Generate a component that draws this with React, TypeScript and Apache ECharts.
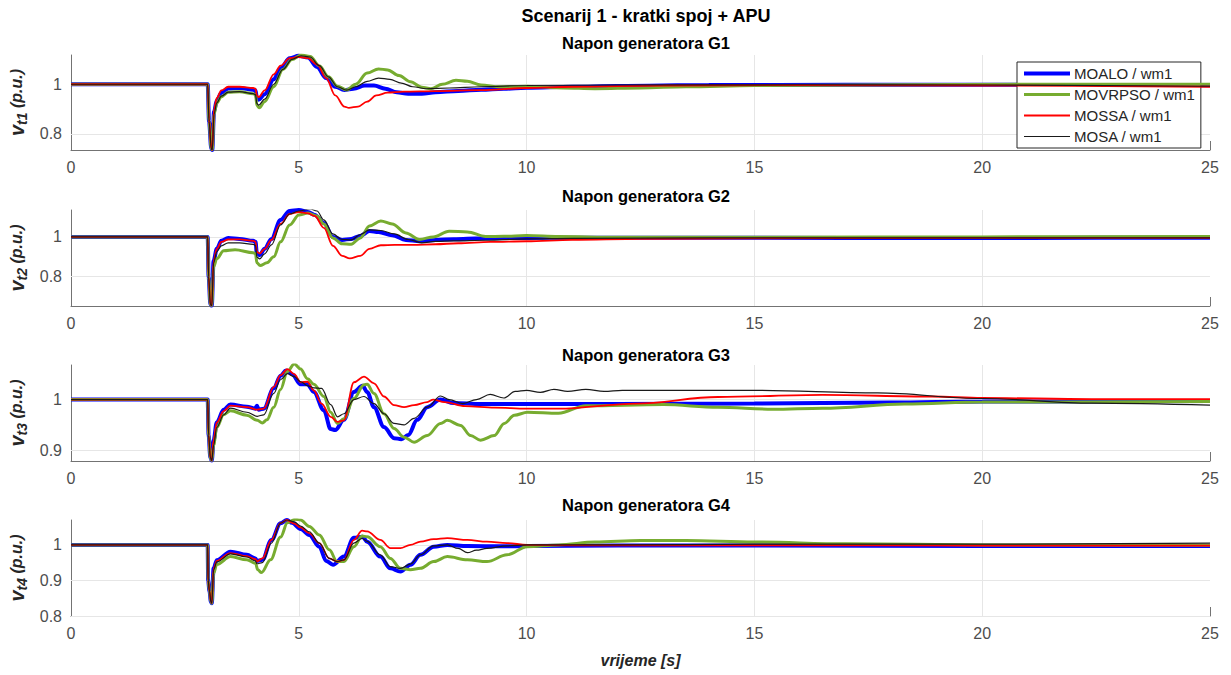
import React, { useEffect, useRef } from "react";
import * as echarts from "echarts";

const methods = ["MOALO / wm1", "MOVRPSO / wm1", "MOSSA / wm1", "MOSA / wm1"];
const methodColors = ["#0000ff", "#77ac30", "#ff0000", "#1a1a1a"];
const methodWidths = [4, 3, 1.8, 1.2];
const panelTitles = ["Napon generatora G1", "Napon generatora G2", "Napon generatora G3", "Napon generatora G4"];
const ySubs = ["t1", "t2", "t3", "t4"];
const xGridValues = [5, 10, 15, 20];
const yTickValues = [[0.8, 1], [0.8, 1], [0.9, 1], [0.8, 0.9, 1]];
const yRanges = [[0.735, 1.118], [0.653, 1.135], [0.879, 1.068], [0.8, 1.07]];

// ---- Panel G1 ----
const g1Moalo = [[0,1],[3,1],[3.03,0.85],[3.08,0.74],[3.1,0.735],[3.14,0.89],[3.2,0.935],[3.3,0.965],[3.45,0.983],[3.7,0.985],[4.0,0.978],[4.05,0.975],[4.08,0.945],[4.12,0.938],[4.25,0.96],[4.45,1.02],[4.6,1.065],[4.8,1.105],[5.0,1.115],[5.2,1.108],[5.4,1.07],[5.6,1.025],[5.8,0.99],[6.0,0.977],[6.2,0.982],[6.45,0.995],[6.65,0.995],[6.9,0.982],[7.15,0.968],[7.4,0.962],[7.7,0.962],[8.0,0.968],[8.5,0.973],[9.0,0.978],[9.5,0.982],[10,0.986],[11,0.99],[12,0.993],[14,0.997],[17,0.998],[20,0.998],[25,0.996]];
const g1Movrpso = [[0,1],[3,1],[3.03,0.85],[3.08,0.74],[3.1,0.735],[3.14,0.88],[3.2,0.925],[3.3,0.95],[3.45,0.968],[3.7,0.97],[4.0,0.962],[4.05,0.958],[4.08,0.915],[4.13,0.905],[4.25,0.93],[4.45,0.99],[4.65,1.06],[4.85,1.1],[5.05,1.118],[5.25,1.112],[5.45,1.075],[5.65,1.03],[5.85,0.992],[6.05,0.977],[6.25,1.0],[6.5,1.045],[6.75,1.062],[6.95,1.058],[7.2,1.035],[7.45,1.01],[7.7,0.988],[7.9,0.982],[8.15,1.0],[8.45,1.016],[8.7,1.012],[9.0,0.997],[9.4,0.99],[10,0.992],[10.8,0.985],[11.5,0.982],[12.5,0.985],[13.5,0.99],[15,0.995],[18,0.998],[21,1.0],[25,1.0]];
const g1Mossa = [[0,1],[3,1],[3.03,0.86],[3.08,0.74],[3.1,0.735],[3.14,0.9],[3.2,0.945],[3.3,0.975],[3.45,0.99],[3.7,0.99],[4.0,0.985],[4.05,0.982],[4.08,0.955],[4.12,0.948],[4.25,0.975],[4.45,1.04],[4.6,1.075],[4.8,1.105],[5.0,1.11],[5.2,1.105],[5.4,1.08],[5.6,1.025],[5.8,0.955],[6.0,0.91],[6.1,0.905],[6.3,0.91],[6.5,0.93],[6.7,0.955],[6.95,0.966],[7.3,0.97],[8,0.972],[9,0.976],[10,0.985],[11,0.99],[13,0.995],[16,0.997],[20,0.995],[25,0.99]];
const g1Mosa = [[0,1],[3,1],[3.03,0.85],[3.08,0.74],[3.1,0.735],[3.14,0.88],[3.2,0.925],[3.3,0.952],[3.45,0.968],[3.7,0.97],[4.0,0.962],[4.05,0.958],[4.08,0.922],[4.12,0.916],[4.25,0.94],[4.45,1.0],[4.65,1.06],[4.85,1.1],[5.05,1.115],[5.25,1.11],[5.45,1.075],[5.65,1.03],[5.85,0.99],[6.05,0.976],[6.25,0.99],[6.5,1.012],[6.75,1.025],[7.0,1.02],[7.25,1.005],[7.5,0.99],[7.8,0.982],[8.3,0.985],[9,0.99],[10,0.995],[12,0.997],[16,0.998],[20,0.997],[25,0.992]];

// ---- Panel G2 ----
const g2Moalo = [[0,1],[3,1],[3.02,0.8],[3.06,0.66],[3.09,0.655],[3.13,0.88],[3.2,0.94],[3.3,0.98],[3.45,0.995],[3.7,0.99],[4.0,0.98],[4.05,0.975],[4.08,0.915],[4.14,0.908],[4.25,0.94],[4.4,0.99],[4.6,1.085],[4.8,1.13],[5.0,1.135],[5.2,1.125],[5.35,1.11],[5.55,1.07],[5.75,1.0],[5.95,0.985],[6.15,0.99],[6.35,1.005],[6.55,1.03],[6.75,1.025],[7.05,1.008],[7.35,0.985],[7.65,0.978],[8.0,0.985],[8.4,0.988],[9,0.993],[10,0.995],[11,0.996],[13,0.996],[17,0.995],[21,0.995],[25,0.996]];
const g2Movrpso = [[0,1],[3,1],[3.02,0.8],[3.06,0.66],[3.09,0.655],[3.13,0.85],[3.2,0.89],[3.35,0.93],[3.6,0.935],[4.0,0.92],[4.05,0.915],[4.08,0.87],[4.15,0.856],[4.3,0.87],[4.45,0.9],[4.6,0.975],[4.8,1.06],[5.0,1.11],[5.2,1.12],[5.4,1.105],[5.55,1.065],[5.75,0.995],[5.95,0.965],[6.15,0.963],[6.35,0.995],[6.55,1.055],[6.8,1.08],[7.05,1.065],[7.35,1.02],[7.65,0.987],[7.95,1.0],[8.3,1.028],[8.7,1.025],[9.1,1.002],[9.5,1.003],[10,1.007],[10.7,1.002],[12,0.998],[15,0.998],[20,1.0],[25,1.002]];
const g2Mossa = [[0,1],[3,1],[3.02,0.8],[3.06,0.66],[3.09,0.655],[3.13,0.88],[3.2,0.94],[3.3,0.975],[3.45,0.987],[3.7,0.988],[4.0,0.98],[4.05,0.975],[4.08,0.925],[4.14,0.917],[4.25,0.94],[4.4,0.985],[4.6,1.065],[4.8,1.115],[5.0,1.125],[5.2,1.118],[5.35,1.105],[5.55,1.045],[5.75,0.955],[5.95,0.905],[6.12,0.892],[6.35,0.905],[6.55,0.94],[6.8,0.958],[7.1,0.96],[7.5,0.96],[8.0,0.963],[8.5,0.968],[9.2,0.975],[10,0.978],[11,0.985],[12.5,0.99],[15,0.993],[20,0.995],[25,0.995]];
const g2Mosa = [[0,1],[3,1],[3.02,0.8],[3.06,0.66],[3.09,0.655],[3.13,0.87],[3.2,0.925],[3.3,0.955],[3.45,0.97],[3.7,0.97],[4.0,0.962],[4.05,0.958],[4.08,0.898],[4.14,0.89],[4.25,0.915],[4.4,0.96],[4.6,1.06],[4.8,1.115],[5.0,1.13],[5.25,1.14],[5.4,1.13],[5.55,1.085],[5.75,1.015],[5.95,0.987],[6.15,0.985],[6.35,1.012],[6.55,1.035],[6.8,1.032],[7.1,1.015],[7.4,0.987],[7.7,0.97],[8.0,0.977],[8.4,0.98],[9.1,0.983],[10,0.99],[11,0.993],[14,0.995],[20,0.995],[25,0.995]];

// ---- Panel G3 ----
const g3Moalo = [[0,1],[3,1],[3.02,0.93],[3.06,0.885],[3.09,0.88],[3.13,0.92],[3.2,0.955],[3.35,0.98],[3.5,0.99],[3.86,0.986],[4.05,0.982],[4.08,0.988],[4.12,0.98],[4.23,0.982],[4.45,1.022],[4.6,1.047],[4.72,1.057],[4.85,1.05],[5.04,1.03],[5.19,1.03],[5.33,1.015],[5.55,0.979],[5.7,0.942],[5.8,0.94],[5.99,0.96],[6.21,1.015],[6.4,1.027],[6.5,1.015],[6.65,0.985],[6.87,0.946],[7.09,0.924],[7.25,0.922],[7.4,0.93],[7.6,0.96],[7.82,0.985],[8.11,1.0],[8.4,0.993],[9,0.991],[10,0.991],[12,0.991],[15,0.992],[18,0.994],[20,0.996],[25,0.997]];
const g3Movrpso = [[0,1],[3,1],[3.02,0.93],[3.06,0.885],[3.09,0.88],[3.13,0.91],[3.2,0.945],[3.35,0.97],[3.5,0.978],[3.86,0.969],[4.09,0.959],[4.2,0.954],[4.3,0.96],[4.45,0.985],[4.6,1.02],[4.75,1.055],[4.9,1.07],[5.04,1.06],[5.19,1.041],[5.33,1.03],[5.55,1.006],[5.7,0.975],[5.85,0.953],[5.99,0.962],[6.21,1.002],[6.43,1.029],[6.5,1.03],[6.65,1.012],[6.87,0.972],[7.09,0.943],[7.31,0.926],[7.53,0.916],[7.82,0.929],[8.11,0.953],[8.26,0.959],[8.55,0.949],[8.77,0.929],[8.99,0.92],[9.29,0.929],[9.51,0.953],[9.73,0.969],[10.02,0.975],[10.7,0.973],[11.3,0.988],[13,0.99],[14.2,0.985],[15.4,0.981],[16.5,0.983],[18.3,0.991],[20,0.995],[25,0.996]];
const g3Mossa = [[0,1],[3,1],[3.02,0.93],[3.06,0.885],[3.09,0.88],[3.13,0.92],[3.2,0.955],[3.35,0.977],[3.5,0.988],[3.86,0.985],[4.09,0.98],[4.23,0.982],[4.45,1.025],[4.6,1.048],[4.75,1.06],[4.9,1.05],[5.04,1.034],[5.19,1.035],[5.33,1.018],[5.5,0.992],[5.7,0.966],[5.85,0.956],[5.99,0.959],[6.21,1.034],[6.43,1.045],[6.65,1.032],[6.87,1.006],[7.09,0.989],[7.31,0.985],[7.53,0.989],[7.82,0.995],[7.95,1.0],[8.2,0.995],[8.65,0.987],[9.3,0.984],[10,0.982],[10.7,0.982],[12.4,0.992],[14.2,1.005],[16.5,1.009],[18.9,1.006],[20,1.003],[22.4,1.001],[25,1.001]];
const g3Mosa = [[0,1],[3,1],[3.02,0.93],[3.06,0.885],[3.09,0.88],[3.13,0.91],[3.2,0.945],[3.35,0.97],[3.5,0.983],[3.86,0.975],[4.09,0.967],[4.23,0.97],[4.45,1.012],[4.6,1.039],[4.75,1.051],[4.9,1.045],[5.04,1.035],[5.2,1.027],[5.33,1.023],[5.5,1.022],[5.7,0.99],[5.85,0.966],[5.99,0.972],[6.21,1.0],[6.43,1.006],[6.65,0.992],[6.87,0.972],[7.09,0.953],[7.31,0.95],[7.53,0.963],[7.82,0.985],[8.11,1.007],[8.3,1.0],[8.6,0.992],[8.9,1.0],[9.2,1.01],[9.5,1.003],[9.75,1.016],[10.0,1.018],[10.3,1.014],[10.6,1.02],[10.9,1.016],[11.3,1.02],[11.7,1.016],[12.1,1.018],[13,1.018],[15,1.018],[17.7,1.013],[20,1.002],[22.4,0.993],[25,0.989]];

// ---- Panel G4 ----
const g4Moalo = [[0,1],[3,1],[3.01,0.9],[3.04,0.87],[3.07,0.84],[3.09,0.836],[3.13,0.934],[3.2,0.957],[3.5,0.981],[3.86,0.972],[4.05,0.962],[4.08,0.955],[4.2,0.958],[4.4,1.014],[4.6,1.061],[4.74,1.07],[4.85,1.062],[5.04,1.045],[5.23,1.028],[5.45,0.995],[5.6,0.955],[5.75,0.944],[5.99,0.967],[6.21,1.02],[6.4,1.023],[6.5,1.009],[6.79,0.967],[7.01,0.934],[7.23,0.925],[7.45,0.944],[7.67,0.972],[7.96,0.995],[8.26,1.0],[8.7,0.997],[9.5,0.996],[10,0.997],[12,0.998],[15,0.998],[20,0.997],[25,0.997]];
const g4Movrpso = [[0,1],[3,1],[3.01,0.9],[3.04,0.87],[3.07,0.84],[3.09,0.836],[3.13,0.92],[3.2,0.945],[3.5,0.967],[3.86,0.958],[4.05,0.948],[4.1,0.93],[4.18,0.922],[4.38,0.958],[4.6,1.022],[4.75,1.062],[4.92,1.072],[5.04,1.07],[5.23,1.052],[5.45,1.028],[5.67,0.986],[5.84,0.953],[5.99,0.953],[6.21,0.995],[6.39,1.025],[6.5,1.023],[6.79,0.995],[7.01,0.962],[7.23,0.934],[7.45,0.93],[7.67,0.934],[7.96,0.953],[8.26,0.967],[8.7,0.958],[9.13,0.953],[9.57,0.972],[10.01,0.995],[10.7,1.0],[11.5,1.008],[12.5,1.012],[13.5,1.012],[15,1.008],[17,1.003],[20,1.0],[25,0.999]];
const g4Mossa = [[0,1],[3,1],[3.01,0.9],[3.04,0.87],[3.07,0.84],[3.09,0.836],[3.13,0.934],[3.2,0.955],[3.5,0.977],[3.86,0.968],[4.05,0.96],[4.08,0.953],[4.2,0.962],[4.4,1.014],[4.6,1.061],[4.74,1.07],[4.9,1.06],[5.04,1.049],[5.23,1.033],[5.45,1.005],[5.67,0.962],[5.84,0.953],[5.99,0.958],[6.21,1.014],[6.39,1.04],[6.5,1.038],[6.79,1.014],[7.01,0.991],[7.23,0.991],[7.45,1.0],[7.67,1.009],[7.96,1.016],[8.26,1.019],[8.7,1.014],[9.13,1.009],[9.57,1.005],[10.01,1.0],[11,0.999],[15,0.999],[20,0.998],[25,0.998]];
const g4Mosa = [[0,1],[3,1],[3.01,0.9],[3.04,0.87],[3.07,0.84],[3.09,0.836],[3.13,0.93],[3.2,0.952],[3.5,0.975],[3.86,0.966],[4.05,0.955],[4.08,0.947],[4.2,0.95],[4.4,1.005],[4.6,1.061],[4.74,1.07],[4.9,1.065],[5.04,1.053],[5.23,1.037],[5.45,1.005],[5.67,0.962],[5.84,0.953],[5.99,0.958],[6.21,1.005],[6.39,1.018],[6.5,1.01],[6.79,0.972],[7.01,0.939],[7.23,0.934],[7.45,0.946],[7.67,0.972],[7.96,0.997],[8.26,1.0],[8.5,0.99],[8.7,0.978],[8.9,0.985],[9.13,0.99],[9.57,0.997],[10.01,1.0],[12,1.0],[15,1.002],[20,1.002],[25,1.005]];

const panelData = [
  [g1Moalo, g1Movrpso, g1Mossa, g1Mosa],
  [g2Moalo, g2Movrpso, g2Mossa, g2Mosa],
  [g3Moalo, g3Movrpso, g3Mossa, g3Mosa],
  [g4Moalo, g4Movrpso, g4Mossa, g4Mosa],
];

const FONT = "'Liberation Sans', Arial, Helvetica, sans-serif";
const gridBoxes = [
  { top: 55, height: 95 },
  { top: 210, height: 96 },
  { top: 365, height: 96 },
  { top: 520, height: 96 },
];
const titleTops = [29, 182, 341, 491];

export default function App() {
  const ref = useRef<HTMLDivElement>(null);
  useEffect(() => {
    if (!ref.current) return;
    const chart = echarts.init(ref.current, null, { renderer: "svg" });
    const grids = gridBoxes.map((g) => ({
      left: 71,
      width: 1139,
      top: g.top,
      height: g.height,
      containLabel: false,
      outerBoundsMode: "none",
    }));
    const xAxes = gridBoxes.map((_, i) => ({
      type: "value",
      gridIndex: i,
      min: 0,
      max: 25,
      interval: 5,
      axisLine: { show: true, onZero: false, lineStyle: { color: "#737373", width: 1 } },
      axisTick: { show: true, inside: true, length: 9, lineStyle: { color: "#737373" } },
      axisLabel: { show: true, color: "#4d4d4d", fontSize: 16, fontFamily: FONT, margin: 9 },
      splitLine: { show: false },
      name: i === 3 ? "vrijeme [s]" : "",
      nameLocation: "middle",
      nameGap: 36,
      nameTextStyle: { fontFamily: FONT, fontSize: 16, fontWeight: "bold", fontStyle: "italic", color: "#262626" },
    }));
    const yAxes = gridBoxes.map((_, i) => ({
      type: "value",
      gridIndex: i,
      min: yRanges[i][0],
      max: yRanges[i][1],
      axisLine: { show: true, onZero: false, lineStyle: { color: "#737373", width: 1 } },
      axisTick: { show: true, inside: true, length: 9, customValues: yTickValues[i], lineStyle: { color: "#737373" } },
      axisLabel: {
        show: true,
        customValues: yTickValues[i],
        color: "#4d4d4d",
        fontSize: 16,
        fontFamily: FONT,
        margin: 9,
        formatter: (v: number) => String(Math.round(v * 10) / 10),
      },
      splitLine: { show: false },
      name: `{v|v}{s|${ySubs[i]}}{p| (p.u.)}`,
      nameLocation: "middle",
      nameRotate: 90,
      nameGap: 39,
      nameTextStyle: {
        fontFamily: FONT,
        color: "#262626",
        rich: {
          v: { fontFamily: FONT, fontSize: 20, fontWeight: "bold", fontStyle: "italic", color: "#262626", lineHeight: 24, verticalAlign: "middle" },
          s: { fontFamily: FONT, fontSize: 14, fontWeight: "bold", fontStyle: "italic", color: "#262626", lineHeight: 14, verticalAlign: "bottom" },
          p: { fontFamily: FONT, fontSize: 16, fontWeight: "bold", fontStyle: "italic", color: "#262626", lineHeight: 24, verticalAlign: "middle" },
        },
      },
    }));
    const series: any[] = [];
    gridBoxes.forEach((_, i) => {
      series.push({
        type: "line",
        name: "grid" + i,
        xAxisIndex: i,
        yAxisIndex: i,
        data: [],
        silent: true,
        z: 1,
        markLine: {
          silent: true,
          z: 1,
          symbol: ["none", "none"],
          label: { show: false },
          emphasis: { disabled: true },
          lineStyle: { color: "#e6e6e6", width: 1, type: "solid" },
          data: [
            ...yTickValues[i].map((v) => ({ yAxis: v })),
            ...xGridValues.map((v) => ({ xAxis: v })),
          ],
        },
      });
      methods.forEach((m, k) => {
        series.push({
          type: "line",
          name: m,
          xAxisIndex: i,
          yAxisIndex: i,
          data: panelData[i][k],
          symbol: "none",
          showSymbol: false,
          silent: true,
          clip: true,
          smooth: 0.35,
          smoothMonotone: "x",
          z: 3 + k,
          color: methodColors[k],
          lineStyle: { color: methodColors[k], width: methodWidths[k] },
        });
      });
    });
    const option: any = {
      animation: false,
      backgroundColor: "#ffffff",
      textStyle: { fontFamily: FONT },
      title: [
        {
          text: "Scenarij 1 - kratki spoj + APU",
          left: 641,
          top: 2,
          textAlign: "center",
          textStyle: { fontFamily: FONT, fontSize: 18, fontWeight: "bold", color: "#000" },
        },
        ...panelTitles.map((t, i) => ({
          text: t,
          left: 641,
          top: titleTops[i],
          textAlign: "center",
          textStyle: { fontFamily: FONT, fontSize: 16.5, fontWeight: "bold", color: "#000" },
        })),
      ],
      legend: {
        orient: "vertical",
        left: 1017,
        top: 62,
        padding: [4, 6, 4, 5],
        itemWidth: 46,
        itemHeight: 14,
        itemGap: 6,
        backgroundColor: "#ffffff",
        borderColor: "#262626",
        borderWidth: 1,
        textStyle: { fontFamily: FONT, fontSize: 15, color: "#262626", lineHeight: 15, padding: [0, 0, 0, -1] },
        data: methods.map((m, k) => ({
          name: m,
          itemStyle: { opacity: 0 },
          lineStyle: { width: methodWidths[k], color: methodColors[k] },
        })),
        selectedMode: false,
      },
      grid: grids,
      xAxis: xAxes,
      yAxis: yAxes,
      series,
    };
    chart.setOption(option);
    return () => chart.dispose();
  }, []);
  return <div ref={ref} style={{ position: "absolute", left: 0, top: 0, width: 1231, height: 675 }} />;
}
